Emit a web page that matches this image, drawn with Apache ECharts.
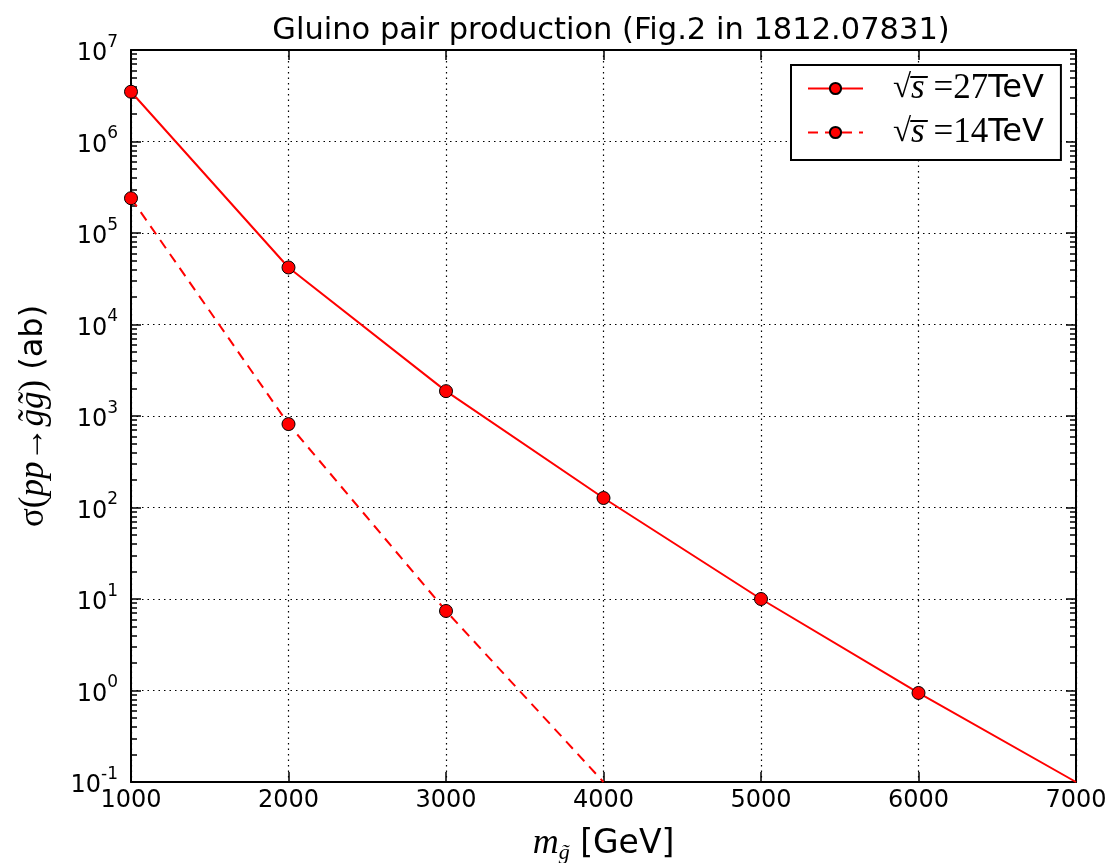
<!DOCTYPE html>
<html>
<head>
<meta charset="utf-8">
<script src="https://cdn.jsdelivr.net/npm/echarts@6/dist/echarts.min.js"></script>
<style>html,body{margin:0;padding:0;background:#fff}#c{width:1113px;height:863px}</style>
</head>
<body>
<div id="c"></div>
<script>
// Data
const massGeV = [1000, 2000, 3000, 4000, 5000, 6000, 7000];
const sigma27 = [3.5e6, 4.2e4, 1870, 127, 10, 0.94, 0.1];
const mass14 = [1000, 2000, 3000, 4000];
const sigma14 = [2.4e5, 816, 7.4, 0.1];
const seriesNames = ['27', '14'];
const titleText = 'Gluino pair production (Fig.2 in 1812.07831)';
// minor tick multipliers for the log axis (matplotlib style)
const minorMultipliers = [2, 3, 4, 5, 6, 7, 8, 9];
const decades = [-1, 0, 1, 2, 3, 4, 5, 6];
const minorTickValues = [];
decades.forEach(d => minorMultipliers.forEach(m => minorTickValues.push(m * Math.pow(10, d))));

const chart = echarts.init(document.getElementById('c'));
const sans = 'DejaVu Sans';
const serif = 'Liberation Serif';

function pts(xs, ys) {
  return xs.map((x, i) => {
    const p = { value: [x, ys[i]] };
    if (i === xs.length - 1) p.symbol = 'none';
    return p;
  });
}

const sup = v => {
  const e = Math.round(Math.log10(v));
  return '{b|10}{s|' + e + '}';
};

const markerStyle = { color: '#ff0000', borderColor: '#000', borderWidth: 1 };

function minorAxis(pos) {
  return {
    type: 'log', logBase: 10, min: 0.1, max: 1e7, position: pos,
    axisLine: { show: false },
    axisTick: { show: true, inside: true, length: 6, customValues: minorTickValues, lineStyle: { color: '#000', width: 1.5 } },
    axisLabel: { show: false }, splitLine: { show: false }, minorTick: { show: false }
  };
}

chart.setOption({
  animation: false,
  backgroundColor: '#fff',
  title: {
    text: titleText,
    left: 606, top: 11, textAlign: 'center',
    textStyle: { fontFamily: sans, fontSize: 30.5, fontWeight: 'normal', color: '#000' }
  },
  grid: { left: 131, right: 37, top: 50, bottom: 81, containLabel: false, outerBoundsMode: 'none' },
  legend: {
    orient: 'vertical', left: 791, top: 65,
    padding: [6, 17, 10, 16], itemGap: 9,
    itemWidth: 55, itemHeight: 14,
    borderColor: '#000', borderWidth: 2, backgroundColor: '#fff', borderRadius: 0,
    data: seriesNames,
    formatter: n => '{r|√}{s|s̅}{e| =' + n + '}{t|TeV}',
    textStyle: {
      color: '#000',
      rich: {
        r: { fontFamily: serif, fontSize: 33, lineHeight: 34, color: '#000', padding: [0, 0, 0, 25] },
        s: { fontFamily: serif, fontStyle: 'italic', fontSize: 35, lineHeight: 34, color: '#000' },
        e: { fontFamily: serif, fontSize: 35, lineHeight: 34, color: '#000' },
        t: { fontFamily: sans, fontSize: 32, lineHeight: 34, color: '#000' }
      }
    }
  },
  xAxis: [{
    type: 'value', min: 1000, max: 7000, interval: 1000,
    name: '{m|m}{g|g̃}{u| [GeV]}', nameLocation: 'middle', nameGap: 42,
    nameTextStyle: {
      color: '#000',
      rich: {
        m: { fontFamily: serif, fontStyle: 'italic', fontSize: 36, color: '#000' },
        g: { fontFamily: serif, fontStyle: 'italic', fontSize: 22, color: '#000', verticalAlign: 'bottom', padding: [18, 0, 0, 0] },
        u: { fontFamily: sans, fontSize: 33, color: '#000' }
      }
    },
    axisLine: { show: true, onZero: false, lineStyle: { color: '#000', width: 2 } },
    axisTick: { show: true, inside: true, length: 10, lineStyle: { color: '#000', width: 1.5 } },
    axisLabel: { fontFamily: sans, fontSize: 24, color: '#000', margin: 7, formatter: v => String(v) },
    splitLine: { show: true, lineStyle: { color: '#000', type: [1.5, 4], width: 1.2 } }
  }, {
    type: 'value', min: 1000, max: 7000, interval: 1000, position: 'top',
    axisLine: { show: true, onZero: false, lineStyle: { color: '#000', width: 2 } },
    axisTick: { show: true, inside: true, length: 10, lineStyle: { color: '#000', width: 1.5 } },
    axisLabel: { show: false }, splitLine: { show: false }
  }],
  yAxis: [{
    type: 'log', logBase: 10, min: 0.1, max: 1e7,
    name: '{a|σ(}{p|pp}{a|→}{p|g̃g̃}{a|)}{u| (ab)}', nameLocation: 'middle', nameGap: 80, nameRotate: 90,
    nameTextStyle: {
      color: '#000',
      rich: {
        a: { fontFamily: serif, fontSize: 35, color: '#000' },
        p: { fontFamily: serif, fontStyle: 'italic', fontSize: 35, color: '#000' },
        u: { fontFamily: sans, fontSize: 32, color: '#000' }
      }
    },
    axisLine: { show: true, onZero: false, lineStyle: { color: '#000', width: 2 } },
    axisTick: { show: true, inside: true, length: 10, lineStyle: { color: '#000', width: 1.5 } },
    minorTick: { show: false },
    axisLabel: {
      margin: 13, formatter: sup, color: '#000',
      rich: {
        b: { fontFamily: sans, fontSize: 24, color: '#000', lineHeight: 32, verticalAlign: 'bottom' },
        s: { fontFamily: sans, fontSize: 17, color: '#000', lineHeight: 32, verticalAlign: 'top', padding: [0, 0, 12, 0] }
      }
    },
    splitLine: { show: true, lineStyle: { color: '#000', type: [1.5, 4], width: 1.2 } }
  }, {
    type: 'log', logBase: 10, min: 0.1, max: 1e7, position: 'right',
    axisLine: { show: true, onZero: false, lineStyle: { color: '#000', width: 2 } },
    axisTick: { show: true, inside: true, length: 10, lineStyle: { color: '#000', width: 1.5 } },
    minorTick: { show: false },
    axisLabel: { show: false }, splitLine: { show: false }
  }, minorAxis('left'), minorAxis('right')],
  series: [{
    name: seriesNames[0], type: 'line', clip: true,
    data: pts(massGeV, sigma27),
    symbol: 'circle', symbolSize: 13,
    itemStyle: markerStyle,
    lineStyle: { color: '#ff0000', width: 2 }
  }, {
    name: seriesNames[1], type: 'line', clip: true,
    data: pts(mass14, sigma14),
    symbol: 'circle', symbolSize: 13,
    itemStyle: markerStyle,
    lineStyle: { color: '#ff0000', width: 2, type: [10, 7] }
  }]
});
</script>
</body>
</html>
